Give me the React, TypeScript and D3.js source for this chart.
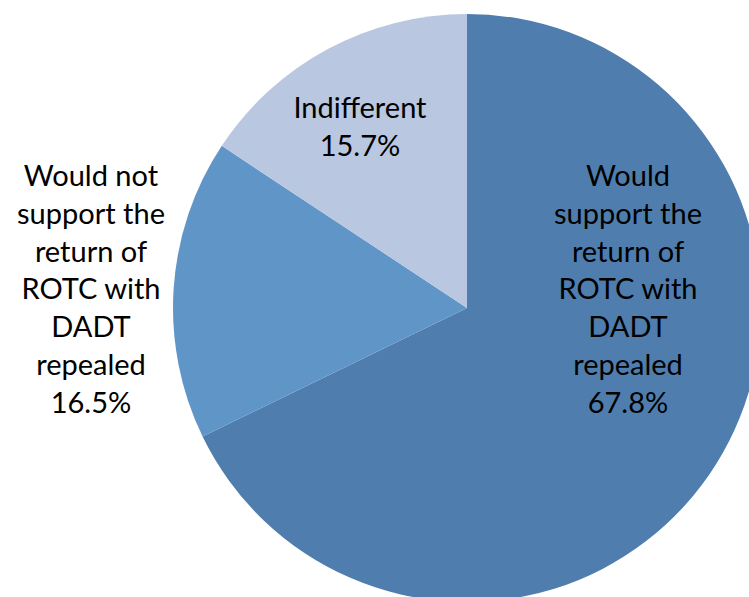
import React from "react";
import * as d3 from "d3";

const categories = [
  "Would support the return of ROTC with DADT repealed",
  "Would not support the return of ROTC with DADT repealed",
  "Indifferent",
];
const values = [67.8, 16.5, 15.7];
const labelLines = [
  ["Would", "support the", "return of", "ROTC with", "DADT", "repealed", "67.8%"],
  ["Would not", "support the", "return of", "ROTC with", "DADT", "repealed", "16.5%"],
  ["Indifferent", "15.7%"],
];
const colors = ["#4F7EAE", "#6095C8", "#B9C7E1"];

const W = 749;
const H = 597;
const cx = 467;
const cy = 308;
const R = 294;

// label anchor positions (x center, first baseline)
const labelPos = [
  { x: 628, y: 186 },
  { x: 91, y: 186 },
  { x: 360, y: 118 },
];
const lineH = 37.8;

export default function App() {
  const pie = d3.pie<number>().sort(null).value((d) => d)(values);
  const arc = d3.arc<d3.PieArcDatum<number>>().innerRadius(0).outerRadius(R);
  return (
    <svg
      width={W}
      height={H}
      style={{ position: "absolute", left: 0, top: 0, background: "#fff" }}
    >
      <g transform={`translate(${cx},${cy})`}>
        {pie.map((p, i) => (
          <path key={categories[i]} d={arc(p) || ""} fill={colors[i]} />
        ))}
      </g>
      {labelLines.map((lines, i) => (
        <text
          key={i}
          textAnchor="middle"
          fontFamily="Lato, 'Open Sans', sans-serif"
          fontSize={29}
          fill="#000"
        >
          {lines.map((l, j) => (
            <tspan key={j} x={labelPos[i].x} y={labelPos[i].y + j * lineH}>
              {l}
            </tspan>
          ))}
        </text>
      ))}
    </svg>
  );
}
